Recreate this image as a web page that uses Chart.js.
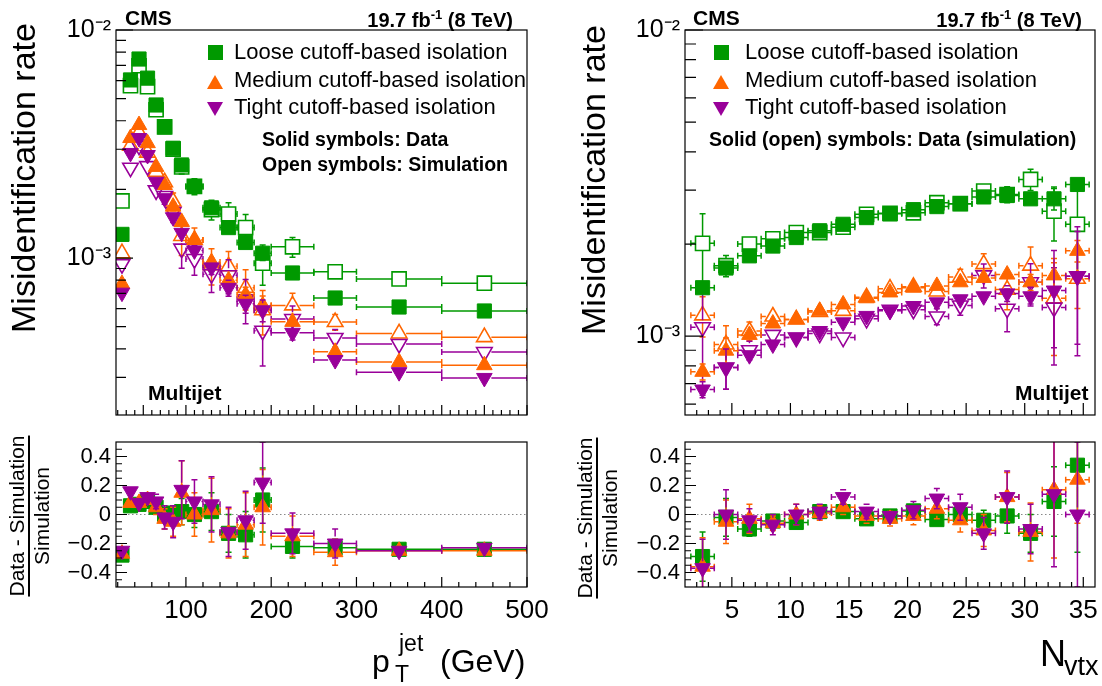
<!DOCTYPE html>
<html>
<head>
<meta charset="utf-8">
<script src="https://cdn.jsdelivr.net/npm/chart.js@4.4.1/dist/chart.umd.min.js"></script>
<style>
  body { margin: 0; background: #fff; width: 1102px; height: 686px; position: relative; overflow: hidden;
         font-family: "Liberation Sans", Arial, Helvetica, sans-serif; }
  canvas { position: absolute; }
  .t { position: absolute; white-space: nowrap; line-height: 1; color: #000; }
  .b { font-weight: bold; }
  .sq { position: absolute; width: 15px; height: 15px; background: #009900; }
  .tu { position: absolute; width: 0; height: 0; border-left: 8px solid transparent; border-right: 8px solid transparent; border-bottom: 14px solid #ff6600; }
  .td { position: absolute; width: 0; height: 0; border-left: 8px solid transparent; border-right: 8px solid transparent; border-top: 14px solid #990099; }
  .rot { position: absolute; transform: translate(-50%, -50%) rotate(-90deg); white-space: nowrap; line-height: 1; text-align: center; }
</style>
</head>
<body>
<canvas id="topPt" width="556" height="430" style="left:0;top:0"></canvas>
<canvas id="ratioPt" width="556" height="256" style="left:0;top:430px"></canvas>
<canvas id="topNvtx" width="546" height="430" style="left:556px;top:0"></canvas>
<canvas id="ratioNvtx" width="546" height="256" style="left:556px;top:430px"></canvas>

<!-- left panel texts -->
<div class="t b" style="left:125px;top:7px;font-size:21px">CMS</div>
<div class="t b" style="right:589px;top:8px;font-size:20px">19.7 fb<sup style="font-size:13px">-1</sup> (8 TeV)</div>
<div class="sq" style="left:208px;top:45px"></div>
<div class="tu" style="left:207px;top:75px"></div>
<div class="td" style="left:207px;top:102px"></div>
<div class="t" style="left:234px;top:41px;font-size:22px">Loose cutoff-based isolation</div>
<div class="t" style="left:234px;top:69px;font-size:22px">Medium cutoff-based isolation</div>
<div class="t" style="left:234px;top:96px;font-size:22px">Tight cutoff-based isolation</div>
<div class="t b" style="left:262px;top:130px;font-size:19.5px">Solid symbols: Data</div>
<div class="t b" style="left:262px;top:155px;font-size:19.5px">Open symbols: Simulation</div>
<div class="t b" style="left:148px;top:382px;font-size:21px">Multijet</div>
<div class="rot" style="left:23px;top:178px;font-size:34px">Misidentification rate</div>
<div class="rot" style="left:29px;top:516px;font-size:21px"><div style="border-bottom:2px solid #000;padding-bottom:1px">Data - Simulation</div><div style="padding-top:1px">Simulation</div></div>
<div class="t" style="left:372px;top:645px;font-size:32px">p</div>
<div class="t" style="left:399px;top:632px;font-size:23px">jet</div>
<div class="t" style="left:395px;top:663px;font-size:23px">T</div>
<div class="t" style="left:440px;top:645px;font-size:32px">(GeV)</div>

<!-- right panel texts -->
<div class="t b" style="left:693px;top:7px;font-size:21px">CMS</div>
<div class="t b" style="right:20px;top:8px;font-size:20px">19.7 fb<sup style="font-size:13px">-1</sup> (8 TeV)</div>
<div class="sq" style="left:714px;top:45px"></div>
<div class="tu" style="left:713px;top:75px"></div>
<div class="td" style="left:713px;top:102px"></div>
<div class="t" style="left:745px;top:41px;font-size:22px">Loose cutoff-based isolation</div>
<div class="t" style="left:745px;top:69px;font-size:22px">Medium cutoff-based isolation</div>
<div class="t" style="left:745px;top:96px;font-size:22px">Tight cutoff-based isolation</div>
<div class="t b" style="left:709px;top:130px;font-size:19.5px">Solid (open) symbols: Data (simulation)</div>
<div class="t b" style="left:1015px;top:382px;font-size:21px">Multijet</div>
<div class="rot" style="left:593px;top:180px;font-size:34px">Misidentification rate</div>
<div class="rot" style="left:597px;top:518px;font-size:21px"><div style="border-bottom:2px solid #000;padding-bottom:1px">Data - Simulation</div><div style="padding-top:1px">Simulation</div></div>
<div class="t" style="left:1040px;top:636px;font-size:36px">N</div>
<div class="t" style="left:1064px;top:653px;font-size:27px">vtx</div>

<script>
// ---- pT binning ----
const ptCenters = [25, 35, 45, 55, 65, 75, 85, 95, 110, 130, 150, 170, 190, 225, 275, 350, 450];
const ptBinLow  = [20, 30, 40, 50, 60, 70, 80, 90, 100, 120, 140, 160, 180, 200, 250, 300, 400];
const ptBinHigh = [30, 40, 50, 60, 70, 80, 90, 100, 120, 140, 160, 180, 200, 250, 300, 400, 500];

// misidentification rate vs pT (data / simulation), relative uncertainties
const looseDataPt  = [1.27e-3, 6.04e-3, 7.46e-3, 6.15e-3, 4.69e-3, 3.76e-3, 3.03e-3, 2.56e-3, 2.06e-3, 1.66e-3, 1.36e-3, 1.17e-3, 1.05e-3, 8.6e-4, 6.68e-4, 6.1e-4, 5.86e-4];
const looseSimPt   = [1.78e-3, 5.7e-3, 6.97e-3, 5.64e-3, 4.47e-3, 3.76e-3, 3.0e-3, 2.51e-3, 2.06e-3, 1.63e-3, 1.56e-3, 1.36e-3, 9.5e-4, 1.12e-3, 8.7e-4, 8.1e-4, 7.76e-4];
const mediumDataPt = [7.7e-4, 3.36e-3, 3.83e-3, 3.19e-3, 2.51e-3, 2.09e-3, 1.68e-3, 1.44e-3, 1.2e-3, 9.6e-4, 8.0e-4, 6.9e-4, 6.2e-4, 5.25e-4, 3.88e-4, 3.5e-4, 3.39e-4];
const mediumSimPt  = [1.05e-3, 3.11e-3, 3.55e-3, 2.9e-3, 2.39e-3, 2.15e-3, 1.77e-3, 1.25e-3, 1.2e-3, 9.3e-4, 9.2e-4, 7.4e-4, 5.9e-4, 6.2e-4, 5.24e-4, 4.67e-4, 4.5e-4];
const tightDataPt  = [7.05e-4, 2.89e-3, 3.36e-3, 2.83e-3, 2.16e-3, 1.83e-3, 1.51e-3, 1.29e-3, 1.08e-3, 9.1e-4, 7.4e-4, 6.3e-4, 5.9e-4, 4.7e-4, 3.57e-4, 3.16e-4, 2.98e-4];
const tightSimPt   = [9.4e-4, 2.49e-3, 3.11e-3, 2.53e-3, 1.98e-3, 1.87e-3, 1.59e-3, 1.1e-3, 9.9e-4, 8.5e-4, 8.4e-4, 6.6e-4, 4.8e-4, 5.4e-4, 4.46e-4, 4.2e-4, 3.87e-4];
const looseDataPtErr  = [0.03, 0.02, 0.02, 0.02, 0.02, 0.02, 0.03, 0.03, 0.04, 0.04, 0.05, 0.06, 0.07, 0.04, 0.03, 0.02, 0.02];
const looseSimPtErr   = [0.04, 0.02, 0.02, 0.03, 0.03, 0.04, 0.05, 0.07, 0.08, 0.1, 0.12, 0.14, 0.2, 0.1, 0.06, 0.03, 0.03];
const mediumDataPtErr = [0.04, 0.03, 0.03, 0.03, 0.03, 0.03, 0.04, 0.05, 0.05, 0.06, 0.07, 0.08, 0.1, 0.06, 0.05, 0.03, 0.03];
const mediumSimPtErr  = [0.05, 0.03, 0.03, 0.04, 0.05, 0.06, 0.09, 0.18, 0.13, 0.18, 0.16, 0.2, 0.22, 0.13, 0.08, 0.04, 0.04];
const tightDataPtErr  = [0.04, 0.03, 0.03, 0.03, 0.03, 0.04, 0.05, 0.06, 0.06, 0.07, 0.08, 0.09, 0.11, 0.07, 0.05, 0.03, 0.03];
const tightSimPtErr   = [0.05, 0.03, 0.04, 0.05, 0.06, 0.08, 0.1, 0.18, 0.15, 0.17, 0.17, 0.22, 0.3, 0.14, 0.09, 0.04, 0.04];

// (data - simulation) / simulation vs pT
const looseRatioPt  = [-0.28, 0.06, 0.07, 0.09, 0.05, 0.0, 0.01, 0.02, 0.0, 0.02, -0.13, -0.14, 0.1, -0.22, -0.23, -0.24, -0.24];
const mediumRatioPt = [-0.27, 0.08, 0.08, 0.1, 0.05, -0.03, -0.05, 0.15, 0.0, 0.03, -0.13, -0.07, 0.05, -0.15, -0.26, -0.25, -0.25];
const tightRatioPt  = [-0.25, 0.16, 0.08, 0.12, 0.09, -0.02, -0.05, 0.17, 0.09, 0.07, -0.12, -0.04, 0.22, -0.13, -0.2, -0.25, -0.23];
const looseRatioPtErr  = [0.03, 0.03, 0.02, 0.03, 0.03, 0.04, 0.05, 0.09, 0.09, 0.13, 0.13, 0.16, 0.22, 0.08, 0.06, 0.02, 0.02];
const mediumRatioPtErr = [0.03, 0.03, 0.03, 0.04, 0.05, 0.07, 0.1, 0.22, 0.15, 0.22, 0.17, 0.22, 0.26, 0.14, 0.09, 0.02, 0.02];
const tightRatioPtErr  = [0.03, 0.03, 0.04, 0.04, 0.05, 0.08, 0.11, 0.2, 0.15, 0.19, 0.17, 0.2, 0.28, 0.14, 0.1, 0.02, 0.02];

// ---- Nvtx binning ----
const nvtxCenters = [2.5, 4.5, 6.5, 8.5, 10.5, 12.5, 14.5, 16.5, 18.5, 20.5, 22.5, 24.5, 26.5, 28.5, 30.5, 32.5, 34.5];
const nvtxBinLow  = [1.5, 3.5, 5.5, 7.5, 9.5, 11.5, 13.5, 15.5, 17.5, 19.5, 21.5, 23.5, 25.5, 27.5, 29.5, 31.5, 33.5];
const nvtxBinHigh = [3.5, 5.5, 7.5, 9.5, 11.5, 13.5, 15.5, 17.5, 19.5, 21.5, 23.5, 25.5, 27.5, 29.5, 31.5, 33.5, 35.5];

const looseDataNvtx  = [1.44e-3, 1.67e-3, 1.83e-3, 1.97e-3, 2.1e-3, 2.21e-3, 2.32e-3, 2.44e-3, 2.51e-3, 2.59e-3, 2.65e-3, 2.71e-3, 2.85e-3, 2.88e-3, 2.81e-3, 2.81e-3, 3.13e-3];
const looseSimNvtx   = [2.01e-3, 1.7e-3, 2.0e-3, 2.08e-3, 2.18e-3, 2.18e-3, 2.27e-3, 2.5e-3, 2.52e-3, 2.53e-3, 2.73e-3, 2.71e-3, 2.98e-3, 2.9e-3, 3.25e-3, 2.56e-3, 2.32e-3];
const mediumDataNvtx = [7.65e-4, 8.97e-4, 1.01e-3, 1.1e-3, 1.135e-3, 1.21e-3, 1.27e-3, 1.33e-3, 1.39e-3, 1.44e-3, 1.46e-3, 1.5e-3, 1.55e-3, 1.59e-3, 1.5e-3, 1.58e-3, 1.9e-3];
const mediumSimNvtx  = [1.17e-3, 9.4e-4, 1.04e-3, 1.16e-3, 1.135e-3, 1.2e-3, 1.21e-3, 1.34e-3, 1.43e-3, 1.45e-3, 1.4e-3, 1.56e-3, 1.72e-3, 1.42e-3, 1.7e-3, 1.33e-3, 1.54e-3];
const tightDataNvtx  = [6.7e-4, 7.9e-4, 8.67e-4, 9.4e-4, 9.9e-4, 1.04e-3, 1.11e-3, 1.165e-3, 1.21e-3, 1.255e-3, 1.29e-3, 1.32e-3, 1.35e-3, 1.38e-3, 1.35e-3, 1.41e-3, 1.57e-3];
const tightSimNvtx   = [1.07e-3, 7.9e-4, 9.0e-4, 1.01e-3, 9.9e-4, 1.02e-3, 9.9e-4, 1.14e-3, 1.22e-3, 1.22e-3, 1.16e-3, 1.26e-3, 1.58e-3, 1.23e-3, 1.5e-3, 1.24e-3, 1.57e-3];
const looseDataNvtxErr  = [0.04, 0.05, 0.03, 0.02, 0.02, 0.02, 0.02, 0.02, 0.02, 0.02, 0.02, 0.02, 0.03, 0.03, 0.04, 0.08, 0.05];
const looseSimNvtxErr   = [0.25, 0.08, 0.03, 0.02, 0.02, 0.02, 0.02, 0.02, 0.02, 0.02, 0.03, 0.03, 0.04, 0.06, 0.08, 0.2, 0.3];
const mediumDataNvtxErr = [0.06, 0.1, 0.04, 0.03, 0.03, 0.03, 0.03, 0.03, 0.03, 0.03, 0.03, 0.03, 0.04, 0.05, 0.06, 0.1, 0.08];
const mediumSimNvtxErr  = [0.15, 0.15, 0.07, 0.05, 0.05, 0.04, 0.04, 0.04, 0.04, 0.05, 0.05, 0.06, 0.08, 0.14, 0.15, 0.35, 0.2];
const tightDataNvtxErr  = [0.06, 0.15, 0.05, 0.04, 0.03, 0.03, 0.03, 0.03, 0.03, 0.03, 0.04, 0.04, 0.05, 0.06, 0.07, 0.35, 0.45];
const tightSimNvtxErr   = [0.4, 0.15, 0.07, 0.06, 0.05, 0.05, 0.04, 0.04, 0.04, 0.05, 0.06, 0.07, 0.09, 0.16, 0.15, 0.35, 0.4];

const looseRatioNvtx  = [-0.29, -0.02, -0.1, -0.045, -0.055, 0.02, 0.02, -0.03, -0.01, 0.025, -0.035, 0.0, -0.04, -0.01, -0.13, 0.09, 0.34];
const mediumRatioNvtx = [-0.36, -0.05, -0.03, -0.06, 0.0, 0.01, 0.05, -0.01, -0.03, -0.01, 0.04, -0.04, -0.11, 0.12, -0.12, 0.17, 0.24];
const tightRatioNvtx  = [-0.37, 0.0, -0.04, -0.07, 0.0, 0.02, 0.12, 0.02, -0.01, 0.03, 0.11, 0.05, -0.13, 0.12, -0.1, 0.14, 0.0];
const looseRatioNvtxErr  = [0.17, 0.13, 0.05, 0.03, 0.03, 0.03, 0.03, 0.03, 0.03, 0.04, 0.04, 0.04, 0.07, 0.12, 0.13, 0.24, 0.6];
const mediumRatioNvtxErr = [0.2, 0.15, 0.1, 0.05, 0.07, 0.05, 0.05, 0.05, 0.05, 0.06, 0.07, 0.08, 0.11, 0.17, 0.2, 0.47, 0.3];
const tightRatioNvtxErr  = [0.2, 0.17, 0.08, 0.07, 0.07, 0.05, 0.05, 0.05, 0.04, 0.06, 0.07, 0.09, 0.11, 0.18, 0.17, 0.5, 0.5];

// ---- axis ticks ----
const rateTicks = [1e-3, 1e-2];
const rateTickLabels = ['10\u207B\u00B3', '10\u207B\u00B2'];
const ratioTicks = [-0.4, -0.2, 0, 0.2, 0.4];
const ratioTickLabels = ['\u22120.4', '\u22120.2', '0', '0.2', '0.4'];
const ptTicks = [100, 200, 300, 400, 500];
const nvtxTicks = [5, 10, 15, 20, 25, 30, 35];

const GREEN = '#009900', ORANGE = '#ff6600', PURPLE = '#990099';
const FONT = '"Liberation Sans", Arial, Helvetica, sans-serif';

function points(xs, lo, hi, ys, errs, relative) {
  return ys.map((y, i) => ({ x: xs[i], y: y, xlo: lo[i], xhi: hi[i], ey: relative ? y * errs[i] : errs[i] }));
}

function markers(color, style, rotation, filled, data) {
  return {
    data: data,
    borderColor: color, pointBorderColor: color,
    backgroundColor: filled ? color : 'rgba(0,0,0,0)',
    pointBackgroundColor: filled ? color : 'rgba(0,0,0,0)',
    pointStyle: style, pointRotation: rotation,
    pointRadius: style === 'rect' ? 10 : 9,
    pointBorderWidth: filled ? 1 : 1.6,
    showLine: false, clip: 0
  };
}

function range(from, to, step) {
  const out = [];
  for (let v = from; v <= to + 1e-9; v += step) out.push(Math.round(v * 1000) / 1000);
  return out;
}

function logMinor(min, max) {
  const out = [];
  for (let e = -5; e <= -2; e++) {
    for (let m = 2; m <= 9; m++) {
      const v = m * Math.pow(10, e);
      if (v > min && v < max) out.push(v);
    }
  }
  return out;
}

function drawErrorBars(chart, ds, meta) {
  const ctx = chart.ctx, a = chart.chartArea;
  const xs = chart.scales.x, ys = chart.scales.y;
  const gap = 7, cap = 3;
  ctx.save();
  ctx.beginPath();
  ctx.rect(a.left, a.top, a.right - a.left, a.bottom - a.top);
  ctx.clip();
  ctx.strokeStyle = ds.borderColor;
  ctx.lineWidth = 1.5;
  ctx.beginPath();
  ds.data.forEach((p, i) => {
    const el = meta.data[i];
    const px = el.x, py = el.y;
    const xl = xs.getPixelForValue(p.xlo), xh = xs.getPixelForValue(p.xhi);
    const low = Math.max(p.y - p.ey, 1e-7 * (ys.type === 'logarithmic' ? 1 : 0) - (ys.type === 'logarithmic' ? 0 : 10));
    const yl = ys.getPixelForValue(low), yh = ys.getPixelForValue(p.y + p.ey);
    if (px - gap > xl) { ctx.moveTo(xl, py); ctx.lineTo(px - gap, py); ctx.moveTo(xl, py - cap); ctx.lineTo(xl, py + cap); }
    if (xh > px + gap) { ctx.moveTo(px + gap, py); ctx.lineTo(xh, py); ctx.moveTo(xh, py - cap); ctx.lineTo(xh, py + cap); }
    if (yh < py - gap) { ctx.moveTo(px, py - gap); ctx.lineTo(px, yh); ctx.moveTo(px - cap, yh); ctx.lineTo(px + cap, yh); }
    if (yl > py + gap) { ctx.moveTo(px, py + gap); ctx.lineTo(px, yl); ctx.moveTo(px - cap, yl); ctx.lineTo(px + cap, yl); }
  });
  ctx.stroke();
  ctx.restore();
}

const rootStyle = {
  id: 'rootStyle',
  beforeDatasetsDraw(chart, args, opts) {
    if (!opts.zeroLine) return;
    const ctx = chart.ctx, a = chart.chartArea;
    const py = chart.scales.y.getPixelForValue(0);
    ctx.save();
    ctx.strokeStyle = '#888';
    ctx.lineWidth = 1;
    ctx.setLineDash([1.5, 2.5]);
    ctx.beginPath();
    ctx.moveTo(a.left, py);
    ctx.lineTo(a.right, py);
    ctx.stroke();
    ctx.restore();
  },
  beforeDatasetDraw(chart, args) {
    drawErrorBars(chart, chart.data.datasets[args.index], args.meta);
  },
  afterDatasetsDraw(chart, args, opts) {
    const ctx = chart.ctx, a = chart.chartArea;
    const x = chart.scales.x, y = chart.scales.y;
    ctx.save();
    ctx.strokeStyle = '#000';
    ctx.lineWidth = 1.2;
    ctx.strokeRect(a.left, a.top, a.right - a.left, a.bottom - a.top);
    ctx.beginPath();
    const tickX = (v, len) => { const p = x.getPixelForValue(v); ctx.moveTo(p, a.bottom); ctx.lineTo(p, a.bottom - len); };
    const tickY = (v, len) => { const p = y.getPixelForValue(v); ctx.moveTo(a.left, p); ctx.lineTo(a.left + len, p); };
    x.ticks.forEach(t => tickX(t.value, opts.xMajorLen));
    opts.xMinor.forEach(v => tickX(v, opts.xMinorLen));
    y.ticks.forEach(t => tickY(t.value, opts.yMajorLen));
    opts.yMinor.forEach(v => tickY(v, opts.yMinorLen));
    ctx.stroke();
    ctx.restore();
  }
};

function makeChart(id, cfg) {
  const xTickList = cfg.xTicks, yTickList = cfg.yTicks;
  return new Chart(document.getElementById(id), {
    type: 'scatter',
    data: { datasets: cfg.datasets },
    plugins: [rootStyle],
    options: {
      responsive: false,
      animation: false,
      events: [],
      layout: { autoPadding: false, padding: cfg.padding },
      plugins: {
        legend: { display: false },
        tooltip: { enabled: false },
        rootStyle: {
          zeroLine: !!cfg.zeroLine,
          xMinor: cfg.xMinor, yMinor: cfg.yMinor,
          xMajorLen: cfg.xMajorLen, xMinorLen: cfg.xMinorLen,
          yMajorLen: cfg.yMajorLen, yMinorLen: cfg.yMinorLen
        }
      },
      scales: {
        x: {
          type: 'linear', min: cfg.xMin, max: cfg.xMax,
          grid: { display: false, drawTicks: false }, border: { display: false },
          afterBuildTicks: s => { s.ticks = xTickList.map(v => ({ value: v })); },
          afterFit: s => { s.height = cfg.xHeight; s.paddingLeft = 0; s.paddingRight = 0; s.paddingTop = 0; s.paddingBottom = 0; },
          ticks: {
            display: !!cfg.xLabels, autoSkip: false, maxRotation: 0, padding: 8,
            color: '#000', font: { family: FONT, size: 26 },
            callback: (v, i) => cfg.xLabels ? cfg.xLabels[i] : ''
          }
        },
        y: {
          type: cfg.yType, min: cfg.yMin, max: cfg.yMax,
          grid: { display: false, drawTicks: false }, border: { display: false },
          afterBuildTicks: s => { s.ticks = yTickList.map(v => ({ value: v })); },
          afterFit: s => { s.width = cfg.yWidth; s.paddingLeft = 0; s.paddingRight = 0; s.paddingTop = 0; s.paddingBottom = 0; },
          ticks: {
            autoSkip: false, padding: 5,
            color: '#000', font: { family: FONT, size: cfg.yFontSize },
            callback: (v, i) => cfg.yLabels[i]
          }
        }
      }
    }
  });
}

// ---- top left: rate vs pT ----
makeChart('topPt', {
  datasets: [
    markers(PURPLE, 'triangle', 180, true, points(ptCenters, ptBinLow, ptBinHigh, tightDataPt, tightDataPtErr, true)),
    markers(ORANGE, 'triangle', 0, true, points(ptCenters, ptBinLow, ptBinHigh, mediumDataPt, mediumDataPtErr, true)),
    markers(GREEN, 'rect', 0, true, points(ptCenters, ptBinLow, ptBinHigh, looseDataPt, looseDataPtErr, true)),
    markers(PURPLE, 'triangle', 180, false, points(ptCenters, ptBinLow, ptBinHigh, tightSimPt, tightSimPtErr, true)),
    markers(ORANGE, 'triangle', 0, false, points(ptCenters, ptBinLow, ptBinHigh, mediumSimPt, mediumSimPtErr, true)),
    markers(GREEN, 'rect', 0, false, points(ptCenters, ptBinLow, ptBinHigh, looseSimPt, looseSimPtErr, true))
  ],
  padding: { left: 0, right: 29, top: 30, bottom: 0 },
  xMin: 18, xMax: 500, xHeight: 15, xTicks: range(50, 500, 50), xLabels: null,
  xMinor: range(20, 490, 10), xMajorLen: 10, xMinorLen: 5,
  yType: 'logarithmic', yMin: 2.05e-4, yMax: 1e-2, yWidth: 116,
  yTicks: rateTicks, yLabels: rateTickLabels, yFontSize: 25,
  yMinor: logMinor(2.05e-4, 1e-2), yMajorLen: 17, yMinorLen: 10
});

// ---- bottom left: ratio vs pT ----
makeChart('ratioPt', {
  datasets: [
    markers(PURPLE, 'triangle', 180, true, points(ptCenters, ptBinLow, ptBinHigh, tightRatioPt, tightRatioPtErr, false)),
    markers(ORANGE, 'triangle', 0, true, points(ptCenters, ptBinLow, ptBinHigh, mediumRatioPt, mediumRatioPtErr, false)),
    markers(GREEN, 'rect', 0, true, points(ptCenters, ptBinLow, ptBinHigh, looseRatioPt, looseRatioPtErr, false))
  ],
  zeroLine: true,
  padding: { left: 0, right: 29, top: 12, bottom: 0 },
  xMin: 18, xMax: 500, xHeight: 99, xTicks: ptTicks, xLabels: ptTicks.map(String),
  xMinor: range(20, 480, 20), xMajorLen: 10, xMinorLen: 5,
  yType: 'linear', yMin: -0.5, yMax: 0.5, yWidth: 116,
  yTicks: ratioTicks, yLabels: ratioTickLabels, yFontSize: 22,
  yMinor: range(-0.45, 0.45, 0.05), yMajorLen: 11, yMinorLen: 6
});

// ---- top right: rate vs Nvtx ----
makeChart('topNvtx', {
  datasets: [
    markers(PURPLE, 'triangle', 180, true, points(nvtxCenters, nvtxBinLow, nvtxBinHigh, tightDataNvtx, tightDataNvtxErr, true)),
    markers(ORANGE, 'triangle', 0, true, points(nvtxCenters, nvtxBinLow, nvtxBinHigh, mediumDataNvtx, mediumDataNvtxErr, true)),
    markers(GREEN, 'rect', 0, true, points(nvtxCenters, nvtxBinLow, nvtxBinHigh, looseDataNvtx, looseDataNvtxErr, true)),
    markers(PURPLE, 'triangle', 180, false, points(nvtxCenters, nvtxBinLow, nvtxBinHigh, tightSimNvtx, tightSimNvtxErr, true)),
    markers(ORANGE, 'triangle', 0, false, points(nvtxCenters, nvtxBinLow, nvtxBinHigh, mediumSimNvtx, mediumSimNvtxErr, true)),
    markers(GREEN, 'rect', 0, false, points(nvtxCenters, nvtxBinLow, nvtxBinHigh, looseSimNvtx, looseSimNvtxErr, true))
  ],
  padding: { left: 0, right: 7, top: 30, bottom: 0 },
  xMin: 1, xMax: 36, xHeight: 15, xTicks: nvtxTicks, xLabels: null,
  xMinor: range(2, 35, 1), xMajorLen: 12, xMinorLen: 5,
  yType: 'logarithmic', yMin: 5.53e-4, yMax: 1e-2, yWidth: 129,
  yTicks: rateTicks, yLabels: rateTickLabels, yFontSize: 25,
  yMinor: logMinor(5.53e-4, 1e-2), yMajorLen: 18, yMinorLen: 11
});

// ---- bottom right: ratio vs Nvtx ----
makeChart('ratioNvtx', {
  datasets: [
    markers(PURPLE, 'triangle', 180, true, points(nvtxCenters, nvtxBinLow, nvtxBinHigh, tightRatioNvtx, tightRatioNvtxErr, false)),
    markers(ORANGE, 'triangle', 0, true, points(nvtxCenters, nvtxBinLow, nvtxBinHigh, mediumRatioNvtx, mediumRatioNvtxErr, false)),
    markers(GREEN, 'rect', 0, true, points(nvtxCenters, nvtxBinLow, nvtxBinHigh, looseRatioNvtx, looseRatioNvtxErr, false))
  ],
  zeroLine: true,
  padding: { left: 0, right: 7, top: 12, bottom: 0 },
  xMin: 1, xMax: 36, xHeight: 99, xTicks: nvtxTicks, xLabels: nvtxTicks.map(String),
  xMinor: range(2, 35, 1), xMajorLen: 10, xMinorLen: 5,
  yType: 'linear', yMin: -0.5, yMax: 0.5, yWidth: 129,
  yTicks: ratioTicks, yLabels: ratioTickLabels, yFontSize: 22,
  yMinor: range(-0.45, 0.45, 0.05), yMajorLen: 11, yMinorLen: 6
});
</script>
</body>
</html>
